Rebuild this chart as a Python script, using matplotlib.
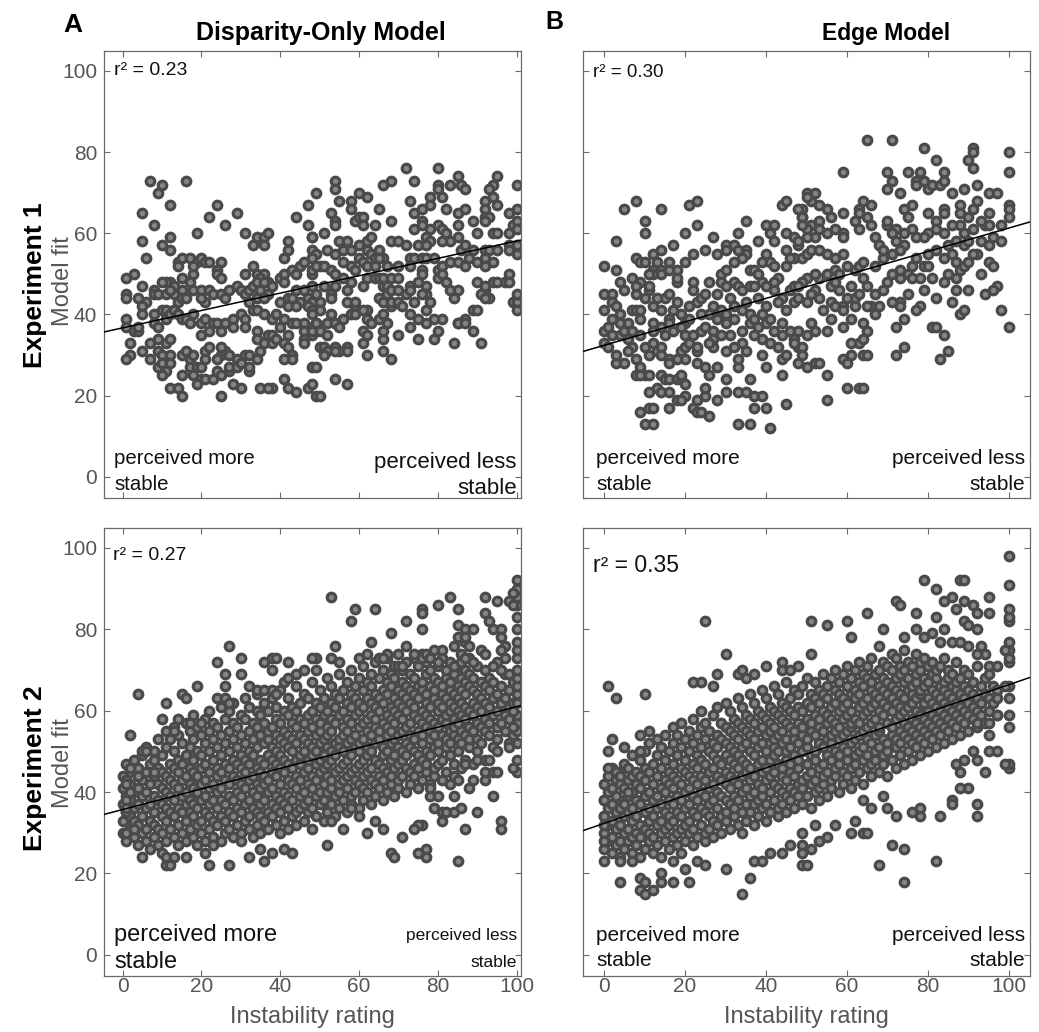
import matplotlib
matplotlib.use("Agg")
import matplotlib.pyplot as plt

# ---------------- data ----------------
# Experiment 1, disparity-only model: (instability rating, model fit)
exp1_disp = [
    (7, 73), (10, 72), (9, 70), (16, 73), (12, 67), (5, 65), (8, 62), (24, 67), (22, 64), (29, 65),
    (26, 62), (19, 60), (5, 58), (6, 54), (10, 57), (12, 59), (12, 56), (31, 60), (34, 59), (36, 59),
    (37, 60), (33, 57), (36, 57), (49, 70), (47, 67), (44, 64), (47, 62), (42, 58), (42, 56), (41, 54),
    (48, 59), (14, 53), (14, 52), (15, 54), (17, 54), (18, 50), (19, 53), (20, 54), (21, 53), (22, 53),
    (24, 51), (25, 53), (24, 50), (25, 49), (31, 50), (33, 52), (34, 50), (36, 50), (35, 49), (37, 48),
    (38, 47), (40, 49), (41, 50), (41, 48), (43, 51), (44, 50), (45, 52), (46, 53), (48, 50), (48, 54),
    (50, 52), (18, 52), (15, 49), (12, 48), (11, 48), (13, 47), (15, 46), (13, 45), (14, 43), (15, 44),
    (16, 44), (13, 41), (17, 48), (18, 46), (20, 46), (21, 43), (20, 44), (22, 46), (23, 45), (25, 45),
    (26, 44), (27, 46), (29, 47), (30, 46), (31, 45), (32, 46), (33, 47), (34, 48), (35, 46), (36, 48),
    (37, 45), (32, 43), (34, 44), (36, 44), (40, 43), (42, 44), (43, 44), (44, 46), (46, 46), (47, 44),
    (48, 43), (45, 43), (42, 42), (44, 42), (47, 42), (48, 41), (50, 43),
    (1, 49), (3, 50), (1, 45), (1, 44), (4, 44), (5, 47), (6, 43), (5, 42), (8, 46), (8, 45),
    (9, 45), (10, 48), (11, 45), (12, 46), (1, 39), (1, 37), (3, 36), (5, 40), (4, 36), (4, 37),
    (8, 40), (8, 38), (10, 41), (9, 37), (11, 41), (11, 39), (12, 40), (13, 41), (14, 40), (15, 39),
    (16, 39), (17, 38), (18, 40), (20, 38), (21, 39), (23, 38), (24, 38), (20, 35), (22, 36), (25, 36),
    (26, 38), (28, 39), (30, 40), (31, 39), (33, 41), (34, 41), (36, 40), (38, 39), (39, 40), (41, 39),
    (43, 38), (44, 38), (46, 38), (48, 37), (49, 38), (28, 37), (31, 37), (34, 36), (37, 35), (38, 35),
    (40, 37), (42, 35), (46, 36), (48, 35),
    (2, 33), (2, 30), (1, 29), (5, 31), (7, 29), (7, 33), (9, 31), (10, 30), (9, 34), (11, 33),
    (12, 34), (9, 27), (10, 28), (11, 26), (10, 25), (12, 30), (12, 28), (15, 30), (16, 31), (17, 29),
    (18, 30), (17, 27), (19, 27), (15, 25), (18, 25), (20, 24), (21, 24), (21, 31), (22, 32), (25, 30),
    (24, 29), (21, 29), (26, 31), (25, 32), (27, 30), (29, 29), (31, 30), (24, 26), (25, 25), (27, 26),
    (28, 23), (30, 22), (32, 26), (32, 27), (32, 30), (34, 29), (35, 31), (34, 34), (36, 33), (38, 33),
    (39, 34), (41, 33), (42, 32), (43, 30), (43, 29), (41, 29), (46, 34), (46, 33), (50, 32), (38, 22),
    (35, 22), (37, 22), (41, 24), (42, 22), (44, 21), (47, 22), (49, 20), (25, 20), (15, 20), (12, 22),
    (14, 22), (19, 23), (27, 27), (20, 27), (23, 24), (29, 27), (30, 28),
    (72, 76), (80, 76), (85, 74), (95, 74), (94, 72), (100, 72), (54, 73), (54, 71), (68, 73), (66, 72),
    (74, 73), (80, 72), (80, 71), (83, 72), (86, 72), (87, 71), (93, 71), (94, 69), (92, 68), (60, 70),
    (62, 69), (55, 68), (58, 68), (58, 66), (65, 66), (73, 68), (78, 69), (78, 67), (81, 69), (82, 66),
    (85, 65), (87, 66), (92, 66), (95, 67), (98, 65), (100, 66), (53, 65), (54, 63), (54, 62), (59, 63),
    (60, 64), (61, 64), (61, 62), (64, 62), (68, 63), (74, 65), (76, 66), (76, 63), (74, 61), (76, 62),
    (78, 61), (80, 62), (85, 62), (89, 63), (92, 64), (93, 64), (92, 63), (90, 60), (94, 60), (95, 60),
    (99, 61), (98, 60), (99, 62), (48, 59), (51, 60), (48, 56), (49, 55), (48, 54), (52, 56), (54, 55),
    (55, 58), (57, 58), (56, 56), (58, 56), (60, 57), (62, 58), (63, 59), (65, 56), (62, 56), (63, 55),
    (64, 54), (66, 54), (68, 58), (70, 58), (72, 57), (75, 57), (77, 59), (78, 58), (77, 57), (81, 61),
    (82, 60), (83, 58), (81, 58), (85, 59), (86, 56), (87, 57), (89, 56), (92, 56), (93, 56), (95, 56),
    (98, 57), (98, 56), (100, 55), (48, 51), (49, 52), (51, 52), (53, 51), (54, 50), (56, 53), (58, 52),
    (59, 51), (60, 54), (61, 53), (62, 52), (64, 52), (65, 54), (67, 52), (70, 52), (73, 54), (74, 54),
    (76, 54), (77, 54), (79, 54), (73, 52), (76, 51), (80, 51), (81, 52), (83, 53), (85, 53), (87, 52),
    (88, 54), (90, 53), (92, 54), (94, 53), (92, 52), (98, 50), (97, 48), (48, 47), (49, 45), (51, 47),
    (53, 45), (54, 47), (53, 44), (56, 49), (58, 48), (57, 46), (61, 47), (62, 49), (64, 49), (65, 49),
    (66, 49), (66, 47), (67, 47), (67, 45), (68, 46), (70, 46), (68, 49), (70, 49), (73, 47), (75, 48),
    (76, 50), (77, 47), (77, 45), (76, 45), (74, 43), (80, 49), (81, 50), (82, 48), (83, 46), (85, 46),
    (84, 44), (90, 48), (92, 46), (93, 44), (94, 48), (95, 48), (48, 40), (50, 41), (53, 40), (54, 38),
    (52, 38), (49, 36), (48, 36), (57, 43), (59, 42), (59, 43), (62, 41), (65, 44), (66, 43), (68, 42),
    (73, 40), (75, 39), (77, 41), (78, 43), (81, 39), (85, 38), (87, 39), (89, 41), (91, 45), (92, 44),
    (92, 47), (99, 43), (100, 43), (100, 41), (100, 45), (100, 57), (100, 63), (100, 61), (49, 38), (50, 36),
    (51, 32), (52, 31), (54, 32), (55, 31), (57, 32), (57, 31), (48, 27), (49, 27), (51, 30), (52, 35),
    (54, 38), (55, 37), (56, 39), (58, 40), (59, 40), (61, 41), (62, 39), (63, 38), (65, 39), (67, 38),
    (66, 40), (68, 43), (70, 43), (71, 42), (72, 45), (73, 46), (61, 36), (62, 35), (66, 34), (70, 35),
    (75, 34), (61, 33), (62, 30), (66, 31), (68, 29), (66, 36), (73, 37), (77, 38), (79, 39), (80, 36),
    (79, 34), (84, 33), (91, 33), (85, 38), (87, 38), (89, 36), (90, 41), (98, 48), (48, 23), (50, 20),
    (54, 24), (57, 23), (54, 31),
]

# Experiment 1, edge model
exp1_edge = [
    (8, 68), (5, 66), (14, 66), (21, 67), (23, 68), (10, 63), (10, 60), (23, 62), (20, 60), (3, 58),
    (44, 67), (45, 68), (35, 63), (40, 62), (42, 62), (49, 66), (50, 70), (49, 64), (33, 60), (27, 59),
    (30, 57), (38, 58), (41, 60), (42, 58), (45, 60), (47, 59), (17, 57), (25, 56), (22, 55), (20, 53),
    (8, 54), (9, 53), (10, 53), (12, 55), (14, 56), (13, 53), (0, 52), (3, 51), (4, 48), (7, 49),
    (9, 48), (12, 51), (14, 51), (16, 53), (18, 51), (18, 48), (22, 48), (28, 55), (30, 56), (32, 57),
    (33, 56), (35, 56), (35, 55), (39, 53), (41, 53), (42, 52), (45, 56), (48, 57), (47, 54), (46, 54),
    (34, 54), (36, 51), (32, 53), (37, 51), (40, 55), (43, 49), (45, 52), (49, 54), (50, 55), (38, 50),
    (0, 45), (2, 45), (0, 41), (0, 36), (0, 33), (1, 32), (2, 43), (3, 42), (4, 40), (4, 38),
    (4, 35), (5, 36), (6, 34), (7, 32), (7, 36), (7, 41), (8, 41), (9, 41), (9, 39), (8, 45),
    (8, 47), (11, 46), (11, 47), (12, 50), (11, 50), (14, 50), (16, 51), (18, 49), (15, 44), (16, 45),
    (14, 41), (16, 39), (16, 38), (12, 38), (14, 37), (12, 36), (9, 35), (12, 33), (13, 31), (14, 32),
    (11, 30), (14, 30), (3, 28), (5, 28), (8, 29), (9, 27), (10, 25), (8, 25), (9, 25), (11, 25),
    (14, 25), (15, 24), (16, 24), (18, 24), (11, 21), (13, 22), (14, 21), (16, 21), (9, 16), (11, 17),
    (12, 17), (10, 13), (12, 13), (16, 17), (18, 19), (19, 24), (19, 25), (20, 23), (20, 20), (19, 19),
    (22, 17), (23, 16), (24, 16), (23, 19), (25, 20), (25, 22), (26, 25), (26, 15), (28, 19), (30, 21),
    (30, 24), (33, 21), (35, 21), (37, 20), (39, 20), (37, 17), (40, 17), (33, 13), (36, 13), (41, 12),
    (45, 18), (36, 24), (44, 25), (39, 30), (40, 27), (44, 29), (45, 30), (48, 28), (50, 27), (33, 27),
    (33, 29), (30, 31), (34, 33), (32, 32), (29, 35), (28, 27), (25, 27), (23, 28), (23, 31), (20, 29),
    (19, 31), (18, 29), (16, 29), (16, 28), (20, 32), (21, 33), (23, 32), (20, 35), (22, 35), (24, 36),
    (25, 37), (27, 36), (27, 34), (27, 32), (28, 39), (30, 38), (32, 39), (34, 36), (36, 38), (37, 35),
    (39, 34), (40, 38), (41, 39), (44, 38), (46, 36), (47, 34), (48, 32), (47, 33), (41, 33), (43, 32),
    (21, 42), (23, 43), (24, 44), (25, 45), (19, 40), (20, 38), (21, 39), (17, 36), (19, 37), (28, 45),
    (29, 50), (29, 48), (30, 51), (30, 47), (32, 48), (33, 47), (34, 46), (36, 47), (37, 47), (39, 48),
    (40, 47), (42, 48), (42, 46), (44, 44), (46, 46), (47, 47), (49, 48), (28, 41), (29, 41), (30, 40),
    (32, 42), (34, 41), (36, 40), (37, 39), (39, 40), (40, 42), (43, 43), (47, 43), (48, 44), (50, 43),
    (26, 40), (24, 40), (22, 46), (26, 48), (6, 38), (2, 39), (10, 44), (13, 44), (18, 43), (17, 41),
    (26, 33), (31, 35), (35, 31), (38, 37), (42, 36), (45, 41), (44, 35), (38, 44), (35, 43), (31, 44),
    (27, 42), (12, 42), (6, 31), (3, 30), (1, 37), (5, 46), (15, 35), (10, 32), (2, 35),
    (65, 83), (71, 83), (79, 81), (82, 78), (90, 78), (91, 76), (91, 81), (91, 80), (100, 80), (100, 75),
    (59, 75), (70, 75), (75, 75), (78, 75), (71, 73), (70, 71), (73, 70), (77, 73), (77, 72), (79, 73),
    (80, 71), (81, 72), (83, 72), (84, 75), (84, 73), (86, 70), (89, 71), (92, 72), (95, 70), (97, 70),
    (100, 67), (100, 66), (100, 64), (95, 65), (94, 62), (95, 62), (98, 62), (98, 58), (92, 68), (91, 66),
    (90, 64), (88, 67), (88, 65), (84, 66), (84, 65), (82, 63), (80, 65), (76, 67), (74, 66), (75, 64),
    (97, 47), (96, 46), (94, 45), (98, 41), (100, 37), (95, 53), (96, 52), (92, 55), (90, 46), (86, 43),
    (87, 46), (87, 49), (88, 51), (89, 52), (90, 53), (84, 35), (85, 31), (83, 29), (81, 37), (82, 37),
    (78, 42), (77, 41), (73, 43), (74, 39), (72, 37), (74, 32), (72, 30), (71, 43), (73, 42), (70, 48),
    (71, 50), (73, 49), (75, 50), (76, 49), (78, 49), (73, 51), (76, 52), (77, 54), (79, 52), (80, 52),
    (80, 55), (82, 56), (84, 54), (86, 55), (87, 53), (85, 57), (87, 58), (89, 57), (90, 58), (91, 55),
    (89, 60), (91, 61), (84, 60), (82, 61), (80, 60), (79, 59), (77, 59), (76, 61), (74, 60), (72, 61),
    (71, 60), (70, 62), (70, 63), (72, 58), (74, 57), (73, 56), (71, 55), (69, 54), (68, 57), (67, 59),
    (65, 64), (66, 62), (63, 66), (64, 68), (66, 67), (63, 65), (62, 63), (63, 61), (59, 60), (59, 65),
    (56, 64), (55, 66), (53, 63), (53, 61), (51, 62), (50, 61), (52, 70), (51, 68), (53, 67), (50, 69),
    (48, 66), (49, 64), (49, 62), (55, 60), (57, 61), (59, 59), (52, 59), (50, 59), (48, 58), (50, 55),
    (51, 56), (53, 56), (55, 55), (57, 54), (59, 55), (60, 52), (62, 51), (63, 52), (64, 53), (64, 49),
    (65, 47), (67, 52), (69, 56), (57, 51), (58, 50), (56, 47), (57, 48), (55, 50), (53, 49), (52, 50),
    (50, 49), (49, 48), (48, 47), (52, 46), (51, 45), (53, 44), (56, 43), (57, 42), (59, 42), (59, 41),
    (62, 44), (63, 45), (62, 42), (66, 42), (68, 42), (65, 42), (59, 37), (55, 36), (52, 36), (51, 38),
    (50, 35), (48, 36), (49, 32), (49, 30), (52, 28), (53, 28), (55, 25), (59, 29), (60, 28), (60, 22),
    (63, 22), (64, 22), (55, 19), (64, 38), (65, 36), (63, 33), (64, 34), (61, 30), (64, 30), (65, 30),
    (61, 33), (88, 40), (89, 41), (67, 45), (69, 46), (61, 47), (60, 44), (54, 41), (56, 39), (58, 46),
    (61, 39), (67, 40), (75, 45), (79, 46), (82, 44), (84, 48), (81, 49), (85, 50), (93, 50), (93, 58),
    (95, 57), (96, 59), (88, 62), (86, 62), (93, 63),
]

# Experiment 2, disparity-only model: dense mass read column by column, plus loose points
exp2_disp_cols = {
    0: [30, 33, 37, 41, 44], 1: [28, 35, 39, 43, 47], 2: [31, 34, 38, 42, 45], 3: [29, 33, 36, 40, 48],
    4: [27, 32, 37, 41, 44, 46], 5: [30, 34, 39, 43, 49], 6: [28, 31, 36, 40, 45, 51], 7: [33, 37, 42, 47],
    8: [29, 32, 35, 39, 44, 48, 50], 9: [27, 31, 38, 42, 46, 53], 10: [30, 34, 37, 41, 45, 49],
    11: [28, 33, 36, 40, 44, 51, 55], 12: [31, 35, 39, 43, 47, 53], 13: [29, 34, 38, 42, 46, 50, 56],
    14: [27, 32, 36, 41, 45, 48, 54], 15: [30, 35, 39, 43, 47, 52], 16: [28, 33, 37, 40, 44, 49, 57],
    17: [31, 35, 38, 42, 46, 51, 55], 18: [29, 34, 37, 41, 45, 48, 53, 59], 19: [27, 32, 36, 40, 44, 50, 56],
    20: [30, 33, 38, 42, 46, 49, 54], 21: [28, 35, 39, 43, 47, 52, 58], 22: [31, 34, 37, 41, 45, 50, 55, 60],
    23: [29, 33, 38, 42, 48, 53, 57], 24: [32, 36, 40, 44, 46, 51, 56], 25: [28, 34, 38, 41, 45, 49, 54, 61],
    26: [30, 33, 37, 43, 47, 52, 58], 27: [31, 35, 39, 42, 46, 50, 55, 60], 28: [29, 34, 38, 44, 48, 53, 57, 62],
    29: [32, 36, 40, 43, 47, 51, 56], 30: [30, 35, 39, 42, 46, 49, 54, 59], 31: [33, 37, 41, 45, 48, 52, 58, 63],
    32: [31, 34, 38, 43, 47, 50, 55, 61], 33: [29, 36, 40, 44, 49, 53, 57], 34: [32, 35, 39, 42, 46, 51, 56, 60, 64],
    35: [30, 34, 37, 41, 45, 48, 54, 59], 36: [33, 38, 42, 44, 47, 52, 57, 62], 37: [31, 35, 40, 43, 49, 53, 55, 60],
    38: [34, 37, 41, 45, 48, 51, 56, 63], 39: [32, 36, 39, 44, 47, 50, 54, 58, 61], 40: [30, 35, 38, 42, 46, 49, 53, 57, 65],
    41: [33, 37, 40, 45, 48, 52, 55, 60], 42: [31, 36, 39, 43, 47, 51, 54, 59, 63], 43: [34, 38, 42, 46, 50, 53, 57, 61],
    44: [32, 35, 41, 44, 48, 52, 56, 60, 66], 45: [36, 39, 43, 47, 49, 54, 58, 62], 46: [33, 37, 40, 45, 50, 53, 57, 64],
    47: [35, 38, 42, 46, 48, 52, 55, 59, 63], 48: [31, 36, 41, 44, 49, 51, 56, 60, 67], 49: [34, 39, 43, 47, 50, 54, 58, 62],
    50: [37, 40, 45, 48, 52, 55, 57, 61, 65], 51: [33, 38, 42, 46, 49, 53, 59, 63], 52: [35, 40, 44, 47, 51, 54, 56, 60, 68],
    53: [37, 41, 43, 48, 50, 55, 58, 62, 66], 54: [34, 39, 45, 49, 52, 57, 61, 64], 55: [36, 40, 42, 46, 51, 53, 59, 63, 69],
    56: [38, 43, 47, 50, 54, 56, 60, 65], 57: [35, 41, 44, 48, 52, 55, 58, 62, 67], 58: [37, 39, 45, 49, 53, 57, 61, 64, 70],
    59: [40, 43, 46, 51, 54, 59, 63, 66], 60: [36, 42, 47, 50, 52, 56, 60, 62, 68], 61: [38, 41, 44, 48, 53, 57, 61, 65, 71],
    62: [40, 45, 49, 51, 55, 58, 63, 67], 63: [37, 43, 46, 50, 54, 59, 62, 66, 69], 64: [39, 42, 48, 52, 56, 58, 61, 64, 72],
    65: [41, 44, 47, 53, 55, 60, 63, 68], 66: [38, 43, 46, 49, 51, 57, 62, 65, 70], 67: [40, 45, 50, 54, 56, 59, 64, 67, 73],
    68: [42, 44, 48, 52, 55, 58, 61, 66, 69], 69: [39, 46, 49, 53, 57, 60, 63, 68, 71], 70: [41, 43, 47, 51, 54, 59, 62, 65, 74],
    71: [44, 48, 50, 55, 58, 61, 64, 67, 70], 72: [40, 46, 49, 52, 56, 60, 63, 66, 72], 73: [42, 45, 51, 54, 57, 62, 65, 69],
    74: [44, 47, 50, 53, 59, 61, 64, 68, 73], 75: [41, 46, 49, 55, 58, 63, 66, 71], 76: [43, 48, 52, 54, 57, 60, 65, 67, 74],
    77: [45, 47, 50, 56, 59, 62, 64, 69, 72], 78: [42, 49, 53, 55, 58, 61, 66, 70], 79: [44, 46, 51, 54, 57, 63, 65, 68, 75],
    80: [47, 50, 52, 56, 60, 62, 67, 71], 81: [43, 48, 54, 58, 61, 64, 66, 73], 82: [45, 51, 53, 57, 59, 63, 68, 70],
    83: [49, 52, 55, 60, 62, 65, 67, 72], 84: [44, 47, 54, 56, 58, 61, 64, 69, 76], 85: [50, 53, 57, 60, 63, 66, 71],
    86: [46, 52, 55, 59, 62, 65, 68, 74], 87: [48, 54, 58, 61, 64, 67, 70], 88: [51, 53, 56, 60, 66, 69, 73],
    89: [47, 55, 59, 62, 65, 68], 90: [50, 53, 57, 61, 64, 71], 91: [52, 56, 60, 63, 67], 92: [48, 55, 58, 62, 66, 70],
    93: [54, 57, 61, 65, 68], 94: [51, 59, 63, 67], 95: [53, 56, 60, 64, 72], 96: [57, 62, 66], 97: [55, 59, 63, 69],
    98: [58, 61, 65], 99: [54, 62, 67],
    100: [45, 48, 52, 55, 57, 59, 62, 64, 66, 68, 70, 73, 75, 77, 80, 83, 86, 88, 90, 92],
}
exp2_disp_loose = [
    (27, 76), (24, 72), (30, 73), (26, 69), (30, 69), (26, 66), (19, 66), (4, 64), (11, 62), (15, 64),
    (16, 63), (10, 58), (14, 58), (13, 55), (2, 54), (17, 57), (20, 57), (20, 54), (24, 63), (26, 63),
    (27, 62), (32, 66), (34, 65), (36, 65), (38, 65), (39, 64), (36, 72), (38, 73), (39, 73), (42, 72),
    (38, 70), (41, 67), (42, 68), (44, 69), (46, 70), (49, 73), (49, 70), (1, 30), (3, 31), (5, 24),
    (7, 26), (10, 25), (11, 24), (11, 22), (12, 22), (13, 24), (16, 24), (13, 29), (21, 25), (23, 27),
    (22, 22), (27, 22), (30, 28), (32, 24), (36, 23), (35, 26), (38, 25), (41, 26), (43, 25), (1, 42),
    (2, 40), (1, 38), (1, 35), (1, 36), (2, 46), (4, 44), (6, 45), (8, 45), (5, 50), (6, 50),
    (53, 88), (59, 85), (58, 82), (64, 85), (72, 82), (68, 79), (76, 80), (76, 85), (76, 84), (80, 86),
    (83, 88), (85, 85), (92, 88), (95, 87), (99, 89), (98, 87), (99, 86), (92, 84), (93, 82), (94, 80),
    (85, 81), (87, 80), (89, 80), (85, 78), (87, 77), (87, 78), (88, 76), (96, 80), (96, 78), (97, 76),
    (96, 75), (97, 73), (54, 76), (63, 77), (72, 76), (48, 73), (53, 73), (55, 72), (60, 73), (62, 74),
    (65, 73), (67, 74), (66, 73), (70, 71), (71, 71), (74, 74), (76, 73), (77, 74), (78, 73), (81, 75),
    (80, 72), (84, 71), (86, 72), (87, 73), (89, 72), (91, 75), (92, 74), (94, 71), (96, 70), (98, 69),
    (98, 65), (99, 60), (99, 56), (98, 52), (98, 51), (95, 50), (94, 45), (95, 45), (99, 46), (94, 39),
    (90, 35), (87, 31), (96, 33), (96, 31), (85, 23), (77, 26), (77, 24), (75, 25), (68, 25), (69, 24),
    (52, 27), (71, 29), (76, 32), (75, 32), (74, 31), (81, 35), (82, 35), (84, 35), (86, 36), (81, 33),
    (79, 36), (78, 39), (78, 41), (80, 39), (84, 39), (83, 42), (85, 43), (88, 41), (89, 43), (92, 43),
    (92, 45), (93, 48), (90, 48), (87, 47), (58, 36), (60, 34), (64, 33), (66, 31), (56, 31), (62, 30),
    (53, 33),
]

# Experiment 2, edge model
exp2_edge_cols = {
    0: [26, 30, 34, 38, 42], 1: [28, 32, 36, 40, 44], 2: [25, 29, 33, 37, 41, 46], 3: [27, 31, 35, 39, 43],
    4: [24, 28, 32, 36, 38, 42, 45], 5: [26, 30, 34, 37, 41, 47], 6: [28, 31, 35, 39, 43, 46],
    7: [25, 29, 33, 36, 40, 44, 49], 8: [27, 30, 34, 38, 42, 45], 9: [24, 29, 32, 37, 41, 44, 48],
    10: [26, 31, 35, 39, 43, 46, 50], 11: [28, 30, 33, 36, 40, 45, 52], 12: [25, 29, 34, 38, 42, 47],
    13: [27, 32, 36, 39, 44, 49, 53], 14: [24, 30, 33, 37, 41, 46, 51], 15: [28, 31, 35, 40, 43, 48, 54],
    16: [26, 32, 34, 38, 42, 45, 50], 17: [29, 33, 37, 41, 44, 47, 52, 56], 18: [27, 30, 35, 39, 43, 49, 54],
    19: [25, 31, 34, 38, 42, 46, 51, 57], 20: [28, 32, 36, 40, 45, 48, 53], 21: [30, 33, 37, 41, 44, 50, 55],
    22: [27, 31, 35, 39, 43, 47, 52, 58], 23: [29, 34, 38, 42, 46, 49, 54], 24: [32, 36, 40, 44, 48, 51, 56, 60],
    25: [28, 30, 35, 39, 43, 47, 53, 57], 26: [31, 34, 37, 41, 45, 50, 55], 27: [29, 33, 38, 42, 46, 49, 52, 59],
    28: [32, 36, 40, 44, 48, 51, 54, 61], 29: [30, 34, 39, 43, 47, 53, 57], 30: [33, 35, 38, 42, 45, 49, 52, 56, 62],
    31: [31, 37, 41, 44, 48, 51, 55, 60], 32: [34, 36, 39, 43, 47, 50, 54, 58], 33: [32, 38, 42, 46, 49, 53, 57, 63],
    34: [30, 35, 40, 44, 48, 51, 56, 61], 35: [33, 37, 41, 45, 47, 52, 55, 59], 36: [35, 39, 43, 46, 50, 54, 58, 64],
    37: [32, 37, 40, 44, 49, 53, 57, 62], 38: [34, 38, 42, 47, 51, 55, 60], 39: [36, 39, 41, 45, 48, 52, 56, 59, 65],
    40: [33, 37, 43, 46, 50, 54, 58, 63], 41: [35, 40, 44, 48, 52, 55, 57, 61], 42: [38, 42, 45, 49, 51, 53, 56, 60, 66],
    43: [34, 36, 41, 47, 50, 54, 59, 64], 44: [37, 40, 44, 46, 52, 55, 58, 62], 45: [35, 39, 43, 48, 50, 53, 57, 61, 67],
    46: [38, 41, 45, 47, 51, 56, 60, 63], 47: [36, 40, 44, 49, 53, 55, 59, 65], 48: [39, 42, 46, 48, 52, 57, 61, 64],
    49: [37, 41, 43, 50, 54, 56, 60, 66], 50: [39, 44, 47, 51, 53, 58, 62, 68], 51: [36, 42, 45, 49, 55, 57, 61, 64],
    52: [40, 43, 48, 50, 54, 59, 63, 67], 53: [38, 41, 46, 52, 56, 58, 62, 65], 54: [42, 44, 47, 51, 55, 60, 64, 69],
    55: [39, 45, 49, 53, 57, 59, 63, 66], 56: [41, 43, 48, 52, 54, 58, 61, 68], 57: [44, 46, 50, 55, 57, 62, 65, 70],
    58: [40, 47, 49, 53, 56, 60, 64, 67], 59: [42, 45, 51, 54, 58, 61, 63, 69], 60: [44, 48, 50, 55, 59, 62, 66, 71],
    61: [41, 46, 52, 56, 57, 60, 64, 68], 62: [43, 47, 49, 53, 58, 63, 65, 70], 63: [45, 50, 54, 57, 61, 64, 67, 72],
    64: [42, 48, 51, 55, 59, 62, 66, 69], 65: [46, 49, 53, 56, 60, 63, 68, 71], 66: [44, 47, 52, 57, 61, 65, 67, 73],
    67: [48, 50, 54, 58, 62, 64, 69], 68: [45, 51, 55, 56, 60, 63, 66, 70], 69: [47, 49, 53, 59, 62, 65, 68, 72],
    70: [44, 50, 52, 57, 61, 64, 67, 71], 71: [48, 54, 56, 60, 63, 66, 70, 74], 72: [46, 51, 53, 58, 62, 65, 68, 73],
    73: [49, 52, 55, 59, 61, 64, 69, 71], 74: [47, 54, 57, 60, 63, 67, 70, 75], 75: [50, 53, 56, 61, 65, 68, 72],
    76: [48, 52, 55, 58, 62, 64, 66, 71], 77: [51, 54, 57, 60, 63, 67, 69, 74], 78: [49, 53, 56, 59, 64, 65, 70, 72],
    79: [52, 55, 58, 61, 62, 66, 68, 73], 80: [50, 54, 57, 60, 63, 67, 71], 81: [53, 56, 59, 62, 65, 69, 72],
    82: [51, 55, 58, 61, 64, 68, 70], 83: [54, 57, 60, 63, 66, 71], 84: [52, 56, 59, 62, 65, 67, 73],
    85: [55, 58, 61, 64, 68, 70], 86: [53, 57, 60, 63, 66, 69], 87: [56, 59, 62, 65, 67, 72],
    88: [54, 58, 61, 64, 68], 89: [57, 60, 63, 66, 70], 90: [55, 59, 62, 65, 69], 91: [58, 61, 64, 67],
    92: [56, 60, 63, 71], 93: [59, 62, 66], 94: [57, 64, 68], 95: [60, 63], 96: [62, 66], 97: [59, 65],
    100: [46, 47, 56, 59, 63, 66, 72, 73, 75, 77, 82, 83, 85, 91, 98],
}
exp2_edge_loose = [
    (25, 82), (30, 74), (1, 66), (3, 63), (10, 64), (22, 67), (24, 67), (28, 69), (27, 66), (33, 69),
    (34, 70), (35, 68), (37, 69), (40, 71), (44, 72), (44, 70), (46, 70), (48, 71), (51, 74), (51, 82),
    (2, 53), (1, 50), (1, 46), (5, 51), (9, 50), (9, 54), (11, 55), (11, 52), (0, 38), (0, 34),
    (0, 32), (0, 28), (0, 23), (3, 39), (3, 45), (4, 44), (6, 40), (4, 23), (7, 23), (4, 18),
    (9, 19), (10, 18), (9, 16), (10, 15), (12, 16), (14, 18), (14, 20), (17, 18), (17, 23), (20, 21),
    (21, 18), (30, 21), (36, 19), (34, 15), (25, 22), (23, 23), (37, 23), (39, 23), (41, 25), (44, 25),
    (46, 27), (49, 27), (49, 22),
    (79, 92), (82, 90), (88, 92), (89, 92), (84, 87), (86, 88), (89, 87), (87, 85), (91, 86), (92, 84),
    (95, 84), (95, 88), (72, 87), (73, 86), (77, 84), (82, 83), (65, 84), (60, 82), (55, 81), (69, 80),
    (61, 78), (68, 76), (74, 78), (77, 80), (79, 78), (81, 79), (83, 77), (84, 80), (89, 82), (90, 81),
    (92, 80), (86, 77), (88, 77), (90, 76), (93, 76), (94, 74), (92, 74), (99, 75), (95, 71), (97, 71),
    (95, 69), (99, 66), (97, 65), (97, 63), (97, 59), (95, 57), (95, 54), (92, 57), (95, 50), (97, 50),
    (99, 47), (91, 50), (94, 45), (92, 48), (89, 48), (88, 45), (87, 47), (90, 41), (88, 41), (86, 38),
    (86, 37), (92, 37), (92, 34), (83, 34), (78, 34), (78, 36), (76, 35), (72, 34), (70, 36), (69, 39),
    (71, 27), (74, 26), (82, 23), (68, 22), (74, 18), (61, 30), (64, 30), (65, 30), (62, 33), (66, 36),
    (64, 38), (50, 22), (49, 25), (51, 26), (53, 28), (55, 29), (49, 30), (52, 32), (57, 32),
]

# regression lines (intercept, slope) and r^2
fit_lines = [(36.7, 0.214), (32.4, 0.289), (35.7, 0.253), (32.3, 0.341)]
r2_values = ["0.23", "0.30", "0.27", "0.35"]
ticks = [0, 20, 40, 60, 80, 100]

# --------------------------------------------------------------------
plt.rcParams['font.family'] = ['Liberation Sans', 'DejaVu Sans']

W, H = 1039, 1032
fig = plt.figure(figsize=(W / 100, H / 100), dpi=100)


def px_box(l, t, r, b):
    return [l / W, 1 - b / H, (r - l) / W, (b - t) / H]


def cols_to_points(cols, loose):
    return [(x, y) for x, ys in cols.items() for y in ys] + loose


TICK_GRAY = '#555555'
SPINE_GRAY = '#6a6a6a'

panels = [
    dict(box=(104, 51, 521, 498), pts=exp1_disp, xlim=(-4.7, 101.1), bottom=False, left=True,
         r2=(0.024, 0.946, 14), ltxt=(0.024, 0.076, 0.018, 14.7), rtxt=(0.99, 0.067, 0.009, 16)),
    dict(box=(583, 51, 1030, 498), pts=exp1_edge, xlim=(-5.2, 105.2), bottom=False, left=False,
         r2=(0.022, 0.942, 13.5), ltxt=(0.029, 0.076, 0.018, 15), rtxt=(0.989, 0.076, 0.018, 15)),
    dict(box=(104, 528, 521, 976), pts=cols_to_points(exp2_disp_cols, exp2_disp_loose), xlim=(-4.7, 101.1),
         bottom=True, left=True,
         r2=(0.022, 0.929, 14), ltxt=(0.024, 0.078, 0.018, 17), rtxt=(0.99, 0.080, 0.020, 12.5)),
    dict(box=(583, 528, 1030, 976), pts=cols_to_points(exp2_edge_cols, exp2_edge_loose), xlim=(-5.2, 105.2),
         bottom=True, left=False,
         r2=(0.022, 0.902, 16.5), ltxt=(0.029, 0.078, 0.022, 15), rtxt=(0.989, 0.078, 0.022, 15)),
]

for i, p in enumerate(panels):
    ax = fig.add_axes(px_box(*p['box']))
    xs = [q[0] for q in p['pts']]
    ys = [q[1] for q in p['pts']]
    ax.scatter(xs, ys, s=38, c='#8a8585', edgecolors='#4a4a4a', linewidths=2.3, zorder=2)

    x0, x1 = p['xlim']
    b0, b1 = fit_lines[i]
    ax.plot([x0, x1], [b0 + b1 * x0, b0 + b1 * x1], color='black', lw=1.1, zorder=3)

    ax.set_xlim(x0, x1)
    ax.set_ylim(-5.2, 104.9)
    ax.set_xticks(ticks)
    ax.set_yticks(ticks)
    ax.tick_params(axis='both', direction='in', length=4, width=0.8, color=SPINE_GRAY,
                   top=True, right=True, labelsize=15, labelcolor=TICK_GRAY)
    ax.tick_params(axis='x', pad=1, labelbottom=p['bottom'])
    ax.tick_params(axis='y', pad=5, labelleft=p['left'])
    for s in ax.spines.values():
        s.set_color(SPINE_GRAY)
        s.set_linewidth(0.9)

    rx, ry, rs = p['r2']
    ax.text(rx, ry, "r\u00b2 = " + r2_values[i], transform=ax.transAxes, fontsize=rs,
            ha='left', va='baseline', color='#111111', zorder=5)
    lx, l1, l2, ls = p['ltxt']
    ax.text(lx, l1, "perceived more", transform=ax.transAxes, fontsize=ls, ha='left', va='baseline',
            color='#111111', zorder=5)
    ax.text(lx, l2, "stable", transform=ax.transAxes, fontsize=ls, ha='left', va='baseline',
            color='#111111', zorder=5)
    tx, t1, t2, ts = p['rtxt']
    ax.text(tx, t1, "perceived less", transform=ax.transAxes, fontsize=ts, ha='right', va='baseline',
            color='#111111', zorder=5)
    ax.text(tx, t2, "stable", transform=ax.transAxes, fontsize=ts, ha='right', va='baseline',
            color='#111111', zorder=5)


def ftext(x, y, s, **kw):
    fig.text(x / W, 1 - y / H, s, **kw)


ftext(63, 32, "A", fontsize=19, fontweight='bold', ha='left', va='baseline')
ftext(545, 29, "B", fontsize=18, fontweight='bold', ha='left', va='baseline')
ftext(321, 40, "Disparity-Only Model", fontsize=18, fontweight='bold', ha='center', va='baseline')
ftext(886, 40, "Edge Model", fontsize=16.5, fontweight='bold', ha='center', va='baseline')
for yc, yl, name in [(285, 281, "Experiment 1"), (768, 763, "Experiment 2")]:
    ftext(35, yc, name, fontsize=19, fontweight='bold', rotation=90, ha='center', va='center')
    ftext(63, yl, "Model fit", fontsize=17, color=TICK_GRAY, rotation=90, ha='center', va='center')
ftext(312, 1023, "Instability rating", fontsize=17, color=TICK_GRAY, ha='center', va='baseline')
ftext(806, 1023, "Instability rating", fontsize=17, color=TICK_GRAY, ha='center', va='baseline')

fig.savefig("out.png", dpi=100)
